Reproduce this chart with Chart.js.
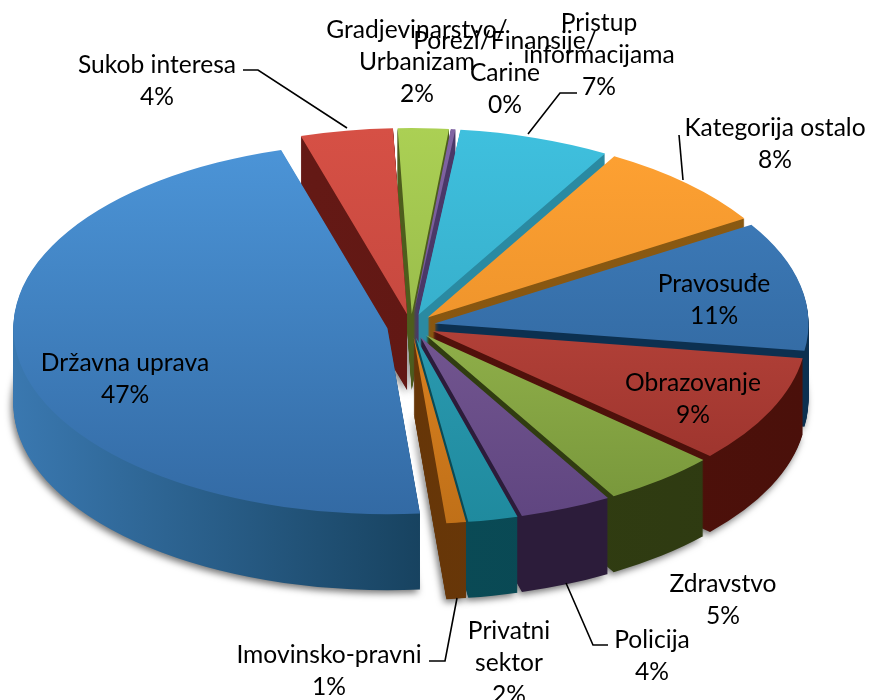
<!DOCTYPE html>
<html>
<head>
<meta charset="utf-8">
<script src="https://cdn.jsdelivr.net/npm/chart.js@4"></script>
<style>
    html, body { margin: 0; padding: 0; background: #fff; }
    #wrap { width: 871px; height: 700px; }
</style>
</head>
<body>
<div id="wrap"><canvas id="pie" width="871" height="700"></canvas></div>
<script>
const categories = ['Državna uprava', 'Sukob interesa', 'Gradjevinarstvo/Urbanizam', 'Porezi/Finansije/Carine',
    'Pristup informacijama', 'Kategorija ostalo', 'Pravosuđe', 'Obrazovanje', 'Zdravstvo', 'Policija',
    'Privatni sektor', 'Imovinsko-pravni']
const values = [46.98, 4, 2.2, 0.2, 6.55, 7.8, 11.3, 9.4, 4.95, 4, 2.15, 0.85]

// face colours, top of the pie to the bottom of it
const faceTop = ['#4c95d8', '#d65045', '#abd054', '#8064a2', '#3fc0de', '#ffa233', '#4080c0', '#cc5045', '#a8c858', '#85659f', '#35a8c0', '#f09028']
const faceBottom = ['#336aa4', '#b8423a', '#8aab44', '#6a4f8a', '#2fa0bb', '#e08825', '#2c5e92', '#96302a', '#76953a', '#5f4580', '#1f8a9e', '#c07018']
// side walls, left to right
const wallLeft = ['#3a78b0', '#6a1c18', '#55651f', '#4a3868', '#2a8aa2', '#85520f', '#0c3050', '#5a120c', '#34400f', '#2c1c3a', '#0c4f5c', '#5f3006']
const wallRight = ['#17425f', '#5a1410', '#45551a', '#4a3868', '#2a8aa2', '#8a5a12', '#0c3050', '#4a100a', '#2e3a12', '#2c1c3a', '#084650', '#6e3c0a']

// label text and where each block sits
const labelLines = [['Državna uprava'], ['Sukob interesa'], ['Gradjevinarstvo/', 'Urbanizam'], ['Porezi/Finansije/', 'Carine'],
    ['Pristup', 'informacijama'], ['Kategorija ostalo'], ['Pravosuđe'], ['Obrazovanje'], ['Zdravstvo'], ['Policija'],
    ['Privatni', 'sektor'], ['Imovinsko-pravni']]
const labelX = [125, 157, 417, 505, 599, 775, 714, 693, 723, 652, 509, 329]
const labelY = [363, 65, 30, 41, 23, 128, 284, 383, 584, 640, 631, 655]
const lineHeight = 32

const leaders = [
    [[243, 70], [258, 70], [347, 128]],
    [[577, 93], [560, 93], [528, 134]],
    [[679, 135], [683, 180]],
    [[429, 661], [445, 661], [457, 598]],
    [[608, 645], [593, 645], [566, 583]]
]

// look of the tilted pie, in screen pixels
const centerX = 411
const centerY = 326
const radiusX = 374
const radiusY = 186
const depth = 76
const explode = 24

const paintArc = (ctx, arc, color) => {
    const saved = arc.options
    arc.options = { ...saved, backgroundColor: color }
    arc.draw(ctx)
    arc.options = saved
}

const tiltedPie = {
    id: 'tiltedPie',
    beforeDatasetsDraw(chart) {
        const ctx = chart.ctx
        const arcs = chart.getDatasetMeta(0).data
        const r = arcs[0].outerRadius
        const sx = radiusX / r
        const sy = radiusY / r
        const midOf = (a) => (a.startAngle + a.endAngle) / 2
        // back slices first
        const order = arcs.map((a, i) => i).sort((a, b) => Math.sin(midOf(arcs[a])) - Math.sin(midOf(arcs[b])))

        order.forEach((i) => {
            const arc = arcs[i]
            const mid = midOf(arc)
            const shift = explode / sx

            const wall = ctx.createLinearGradient(arc.x - r, 0, arc.x + r, 0)
            const rightStop = i === 0 ? 0.55 : 1
            wall.addColorStop(0, wallLeft[i])
            wall.addColorStop(rightStop, wallRight[i])
            const face = ctx.createLinearGradient(0, arc.y - r, 0, arc.y + r)
            face.addColorStop(0, faceTop[i])
            face.addColorStop(1, faceBottom[i])

            for (let d = depth; d >= 0; d--) {
                ctx.save()
                ctx.translate(centerX, centerY + d)
                ctx.scale(sx, sy)
                ctx.translate(-arc.x + Math.cos(mid) * shift, -arc.y + Math.sin(mid) * shift)
                if (d === depth) {
                    ctx.shadowColor = 'rgba(0,0,0,0.55)'
                    ctx.shadowBlur = 7
                    ctx.shadowOffsetX = -2
                    ctx.shadowOffsetY = 3
                }
                paintArc(ctx, arc, d === 0 ? face : wall)
                ctx.restore()
            }
        })
        return false
    },
    afterDraw(chart) {
        const ctx = chart.ctx
        const total = values.reduce((a, b) => a + b, 0)

        ctx.save()
        ctx.strokeStyle = '#000'
        ctx.lineWidth = 1.6
        leaders.forEach((pts) => {
            ctx.beginPath()
            pts.forEach((p, i) => (i === 0 ? ctx.moveTo(p[0], p[1]) : ctx.lineTo(p[0], p[1])))
            ctx.stroke()
        })

        ctx.fillStyle = '#000'
        ctx.font = '24.6px Lato'
        ctx.textAlign = 'center'
        ctx.textBaseline = 'middle'
        categories.forEach((name, i) => {
            const lines = [...labelLines[i], Math.round(values[i] / total * 100) + '%']
            lines.forEach((line, n) => ctx.fillText(line, labelX[i], labelY[i] + n * lineHeight))
        })
        ctx.restore()
    }
}

new Chart(document.getElementById('pie'), {
    type: 'pie',
    data: {
        labels: categories,
        datasets: [{
            data: values,
            backgroundColor: faceTop,
            borderWidth: 0
        }]
    },
    options: {
        responsive: false,
        animation: false,
        rotation: 175,
        layout: { padding: 0 },
        plugins: {
            legend: { display: false },
            tooltip: { enabled: false }
        }
    },
    plugins: [tiltedPie]
})
</script>
</body>
</html>
